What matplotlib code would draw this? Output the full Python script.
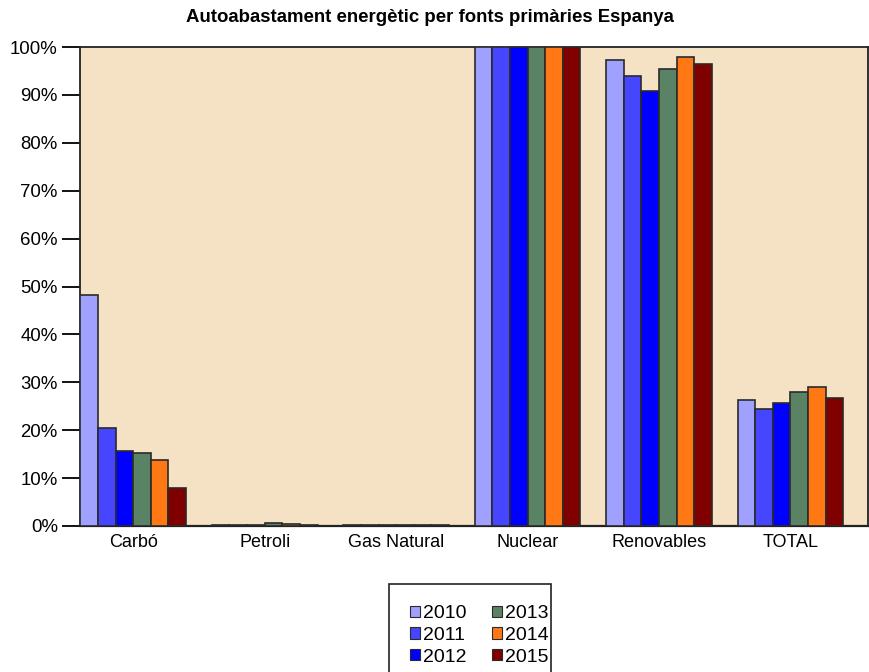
import matplotlib
matplotlib.use("Agg")
import matplotlib.pyplot as plt
import matplotlib.patches as mpatches
import numpy as np

categories = ["Carbó", "Petroli", "Gas Natural", "Nuclear", "Renovables", "TOTAL"]
years = ["2010", "2011", "2012", "2013", "2014", "2015"]
values = {
    "2010": [48.2, 0.2, 0.2, 100, 97.3, 26.3],
    "2011": [20.5, 0.2, 0.2, 100, 94.0, 24.4],
    "2012": [15.7, 0.2, 0.2, 100, 90.8, 25.7],
    "2013": [15.3, 0.6, 0.2, 100, 95.4, 28.0],
    "2014": [13.8, 0.4, 0.2, 100, 97.9, 29.0],
    "2015": [8.0, 0.3, 0.2, 100, 96.4, 26.7],
}
colors = ["#A0A0FF", "#4646FF", "#0000FF", "#5A8264", "#FF7814", "#800000"]
yticks = [0, 10, 20, 30, 40, 50, 60, 70, 80, 90, 100]

plt.rcParams['font.family'] = ['Liberation Sans', 'DejaVu Sans']

W, H = 870, 672
fig = plt.figure(figsize=(8.7, 6.72), dpi=100)
ax = fig.add_axes([80/W, 1-526/H, 788/W, 479/H])
ax.set_facecolor("#F5E1C3")

x = np.arange(len(categories))
bw = 0.134
for i, y in enumerate(years):
    ax.bar(x + (i - 2.5) * bw, values[y], width=bw, color=colors[i],
           edgecolor="#2a2a2a", linewidth=1.2, label=y, zorder=3)

ax.set_xlim(-0.405, 5.59)
ax.set_ylim(0, 100)
ax.set_yticks(yticks)
ax.set_yticklabels([f"{t}%" for t in yticks], fontsize=13.4)
ax.tick_params(axis='y', direction='out', length=13, width=1.3, pad=3)
ax.set_xticks(x)
ax.set_xticklabels(categories, fontsize=13)
ax.tick_params(axis='x', length=0, pad=6)
for s in ax.spines.values():
    s.set_linewidth(1.3)
    s.set_color("#222222")
ax.spines['bottom'].set_linewidth(1.6)

fig.text(430/W, 1-18/H, "Autoabastament energètic per fonts primàries Espanya",
         ha="center", va="center", fontsize=13.4, fontweight="bold")

# legend box (extends below the figure edge as in the reference)
box = mpatches.Rectangle((389/W, -20/H), 162/W, (H - 584 + 20)/H,
                         transform=fig.transFigure, facecolor="white",
                         edgecolor="#222222", linewidth=1.2, zorder=1)
fig.patches.append(box)

leg = fig.legend(loc="upper left", bbox_to_anchor=(410/W, 1-605/H), ncol=2,
                 fontsize=14, frameon=False, borderaxespad=0.0,
                 handlelength=0.5, handleheight=0.5, handletextpad=0.15,
                 columnspacing=1.35, labelspacing=0.25, borderpad=0.0)
for h in leg.legend_handles:
    h.set_linewidth(0.8)

fig.savefig("out.png", dpi=100)
